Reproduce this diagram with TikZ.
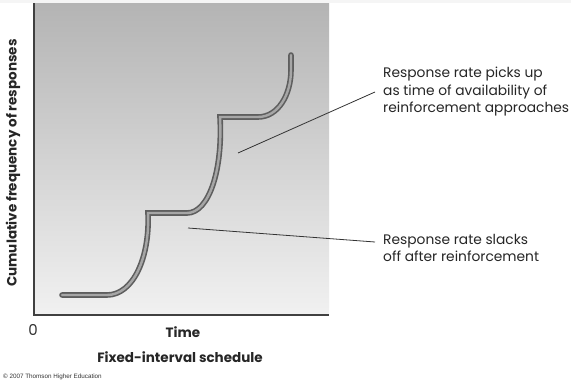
\documentclass[tikz,border=0pt]{standalone}
\usepackage{fontspec}
\usepackage{xcolor}
\setmainfont{Poppins}
\newfontfamily\tinyfont{Liberation Sans}
\definecolor{shadetop}{HTML}{B4B4B4}
\definecolor{shadebot}{HTML}{F1F1F1}
\definecolor{curveout}{HTML}{5E5E5E}
\definecolor{curvein}{HTML}{A6A6A6}

\begin{document}
\begin{tikzpicture}[x=1pt, y=-1pt,
  note/.style={anchor=west, align=left, inner xsep=8pt, inner ysep=0pt, font=\fontsize{13.8}{17.5}\selectfont, text=black!85},
  heading/.style={font=\fontsize{13.5}{15}\bfseries\selectfont, text=black!85, inner sep=0pt},
  leader/.style={draw=black!80, line width=0.8pt},
  record/.style={draw=curveout, line width=1.6pt, double=curvein, double distance=2.4pt, line cap=round, line join=miter}]
\useasboundingbox (0,0) rectangle (571,383);
\fill[white] (0,0) rectangle (571,383);
\fill[black!4] (0,0) rectangle (571,3);
\shade[top color=shadetop, bottom color=shadebot] (34,3) rectangle (329,315);
\draw[black!75, line width=1.6pt] (34,3) -- (34,315) -- (329,315);
% cumulative record
\draw[record] (62,295) -- (107,295) .. controls (133,295) and (150,258) .. (148,213)
  -- (187,213) .. controls (209,213) and (223,170) .. (220,117)
  -- (258,117) .. controls (278,117) and (291,95) .. (291,70) -- (291,55);
% labels
\node[heading, rotate=90] (ylab) at (13,163) {Cumulative frequency of responses};
\node[inner sep=0pt, font=\fontsize{15}{16}\selectfont, text=black!80] (zero) at (33,330) {0};
\node[heading] (time) at (183,332) {Time};
\node[heading] (sched) at (180,357) {Fixed-interval schedule};
\node[anchor=west, inner sep=0pt, font=\tinyfont\fontsize{6.3}{7}\selectfont, text=black!80] (copy) at (3,377) {\textcopyright{} 2007 Thomson Higher Education};
\node[note] (pickup) at (375,92) {Response rate picks up\\as time of availability of\\reinforcement approaches};
\node[note] (slack) at (375,248) {Response rate slacks\\off after reinforcement};
\coordinate (p1) at (238,153);
\coordinate (p2) at (188,228);
\draw[leader] (p1) -- (pickup.west);
\draw[leader] (p2) -- ([yshift=6pt]slack.west);
\end{tikzpicture}
\end{document}
